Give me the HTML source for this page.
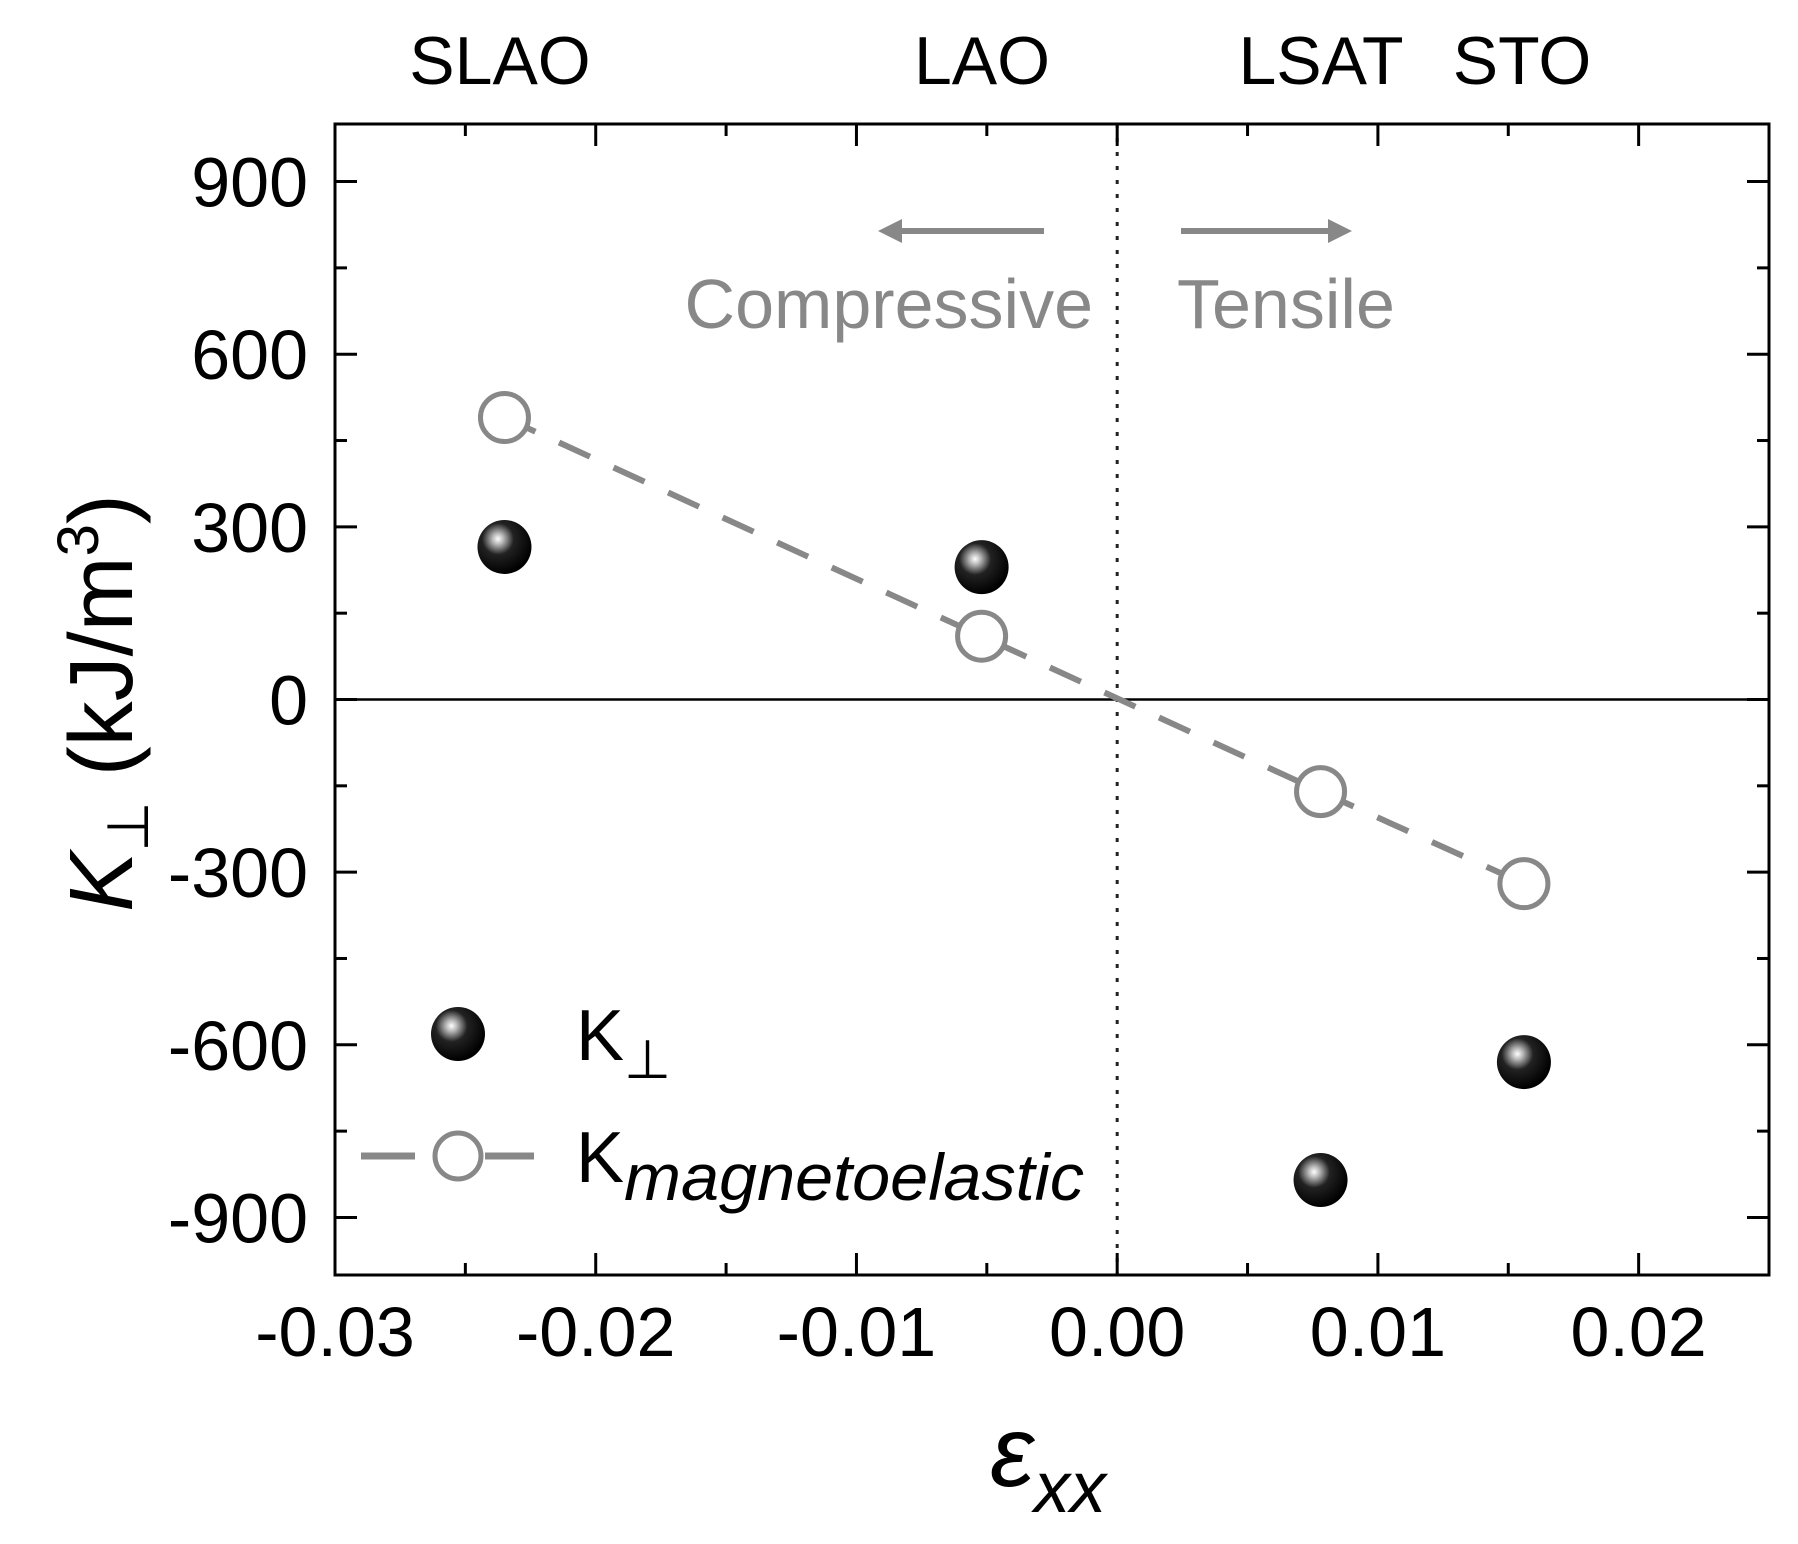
<!DOCTYPE html>
<html><head><meta charset="utf-8"><style>
html,body{margin:0;padding:0;background:#fff}
svg{display:block}
text{font-family:"Liberation Sans",Arial,sans-serif}
</style></head><body>
<svg id="chart" width="1798" height="1544" viewBox="0 0 1798 1544" xmlns="http://www.w3.org/2000/svg">
<defs>
<radialGradient id="sph" cx="0.38" cy="0.35" r="0.65">
<stop offset="0" stop-color="#fff"/><stop offset="0.15" stop-color="#bbb"/><stop offset="0.45" stop-color="#222"/><stop offset="1" stop-color="#000"/>
</radialGradient>
<marker id="ah" viewBox="0 0 10 10" refX="5" refY="5" markerWidth="4" markerHeight="4" orient="auto"><path d="M0,0 L10,5 L0,10 z" fill="#888"/></marker>
</defs>
<g id="axes"></g>
<g id="marks"></g>
<text x="500" y="84" font-size="68" text-anchor="middle">SLAO</text>
<text x="982" y="84" font-size="68" text-anchor="middle">LAO</text>
<text x="1321" y="84" font-size="68" text-anchor="middle">LSAT</text>
<text x="1522" y="84" font-size="68" text-anchor="middle">STO</text>
<line x1="1044" y1="231" x2="890" y2="231" stroke="#888" stroke-width="6" marker-end="url(#ah)"/>
<line x1="1181" y1="231" x2="1340" y2="231" stroke="#888" stroke-width="6" marker-end="url(#ah)"/>
<text x="1093" y="328" font-size="70" fill="#888" text-anchor="end">Compressive</text>
<text x="1177" y="328" font-size="70" fill="#888">Tensile</text>
<text transform="translate(132,703) rotate(-90)" font-size="90" text-anchor="middle"><tspan font-style="italic">K</tspan><tspan font-size="58" dy="16">⊥</tspan><tspan dy="-16"> (kJ/m</tspan><tspan font-size="58" dy="-34">3</tspan><tspan dy="34">)</tspan></text>
<text x="990" y="1486" font-size="100" font-style="italic" font-family="Liberation Serif,serif">ε<tspan font-family="Liberation Sans,sans-serif" font-size="72" dy="26">xx</tspan></text>
<g>
<circle cx="458" cy="1034" r="27" fill="url(#sph)"/>
<text x="576" y="1060" font-size="72">K<tspan font-size="54" dy="18">⊥</tspan></text>
<line x1="361" y1="1156" x2="415" y2="1156" stroke="#888" stroke-width="7"/>
<line x1="485" y1="1156" x2="534" y2="1156" stroke="#888" stroke-width="7"/>
<circle cx="458" cy="1156" r="23" fill="#fff" stroke="#888" stroke-width="5"/>
<text x="576" y="1182" font-size="72">K<tspan font-size="66" font-style="italic" dy="18" textLength="460" lengthAdjust="spacingAndGlyphs">magnetoelastic</tspan></text>
</g>
</svg>
<script>
const xTicks = [-0.03, -0.02, -0.01, 0.00, 0.01, 0.02];
const xTickLabels = ["-0.03", "-0.02", "-0.01", "0.00", "0.01", "0.02"];
const yTicks = [-900, -600, -300, 0, 300, 600, 900];
const yTickLabels = ["-900", "-600", "-300", "0", "300", "600", "900"];
const strain = [-0.0235, -0.0052, 0.0078, 0.0156];
const kPerp = [265, 230, -835, -630];
const kMagneto = [490, 110, -160, -320];

const L=335,R=1769,T=124,B=1275;
const xMin=-0.03,xMax=0.025,yMin=-1000,yMax=1000;
const sx=v=>L+(v-xMin)/(xMax-xMin)*(R-L);
const sy=v=>B-(v-yMin)/(yMax-yMin)*(B-T);
const NS="http://www.w3.org/2000/svg";
function mk(tag,attrs,parent){const e=document.createElementNS(NS,tag);for(const k in attrs)e.setAttribute(k,attrs[k]);parent.appendChild(e);return e;}
const ax=document.getElementById('axes'), mg=document.getElementById('marks');

const frame=mk('rect',{x:L,y:T,width:R-L,height:B-T,fill:'none',stroke:'#000','stroke-width':3},ax);


const zl=mk('line',{x1:L,x2:R,y1:sy(0),y2:sy(0),stroke:'#000','stroke-width':2.5},ax);


const vl=mk('line',{x1:sx(0),x2:sx(0),y1:T,y2:B,stroke:'#222','stroke-width':3,'stroke-dasharray':'4 10'},ax);



for(let i=0;i<=11;i++){
  const v=xMin+i*0.005, x=sx(v), len=(i%2===0)?22:12;
  const t1=mk('line',{x1:x,x2:x,y1:B,y2:B-len,stroke:'#000','stroke-width':3},ax);
  
  
  const t2=mk('line',{x1:x,x2:x,y1:T,y2:T+len,stroke:'#000','stroke-width':3},ax);
  
  
}
xTicks.forEach((v,i)=>{
  const t=mk('text',{x:sx(v),y:1356,'font-size':70,'text-anchor':'middle'},ax);
  t.textContent=xTickLabels[i];
  
  
});
for(let v=-900;v<=900;v+=150){
  const y=sy(v), len=(v%300===0)?22:12;
  const t1=mk('line',{x1:L,x2:L+len,y1:y,y2:y,stroke:'#000','stroke-width':3},ax);
  
  
  const t2=mk('line',{x1:R,x2:R-len,y1:y,y2:y,stroke:'#000','stroke-width':3},ax);
  
  
}
yTicks.forEach((v,i)=>{
  const t=mk('text',{x:308,y:sy(v)+25,'font-size':70,'text-anchor':'end'},ax);
  t.textContent=yTickLabels[i];
  
  
});

const pts=strain.map((s,i)=>sx(s)+','+sy(kMagneto[i])).join(' ');
const pl=mk('polyline',{points:pts,fill:'none',stroke:'#888','stroke-width':6,'stroke-dasharray':'34 26'},mg);


strain.forEach((s,i)=>{
  const c=mk('circle',{cx:sx(s),cy:sy(kMagneto[i]),r:24,fill:'#fff',stroke:'#888','stroke-width':5},mg);
  
  
});
strain.forEach((s,i)=>{
  const c=mk('circle',{cx:sx(s),cy:sy(kPerp[i]),r:27,fill:'url(#sph)'},mg);
  
  
});
</script>
</body></html>
